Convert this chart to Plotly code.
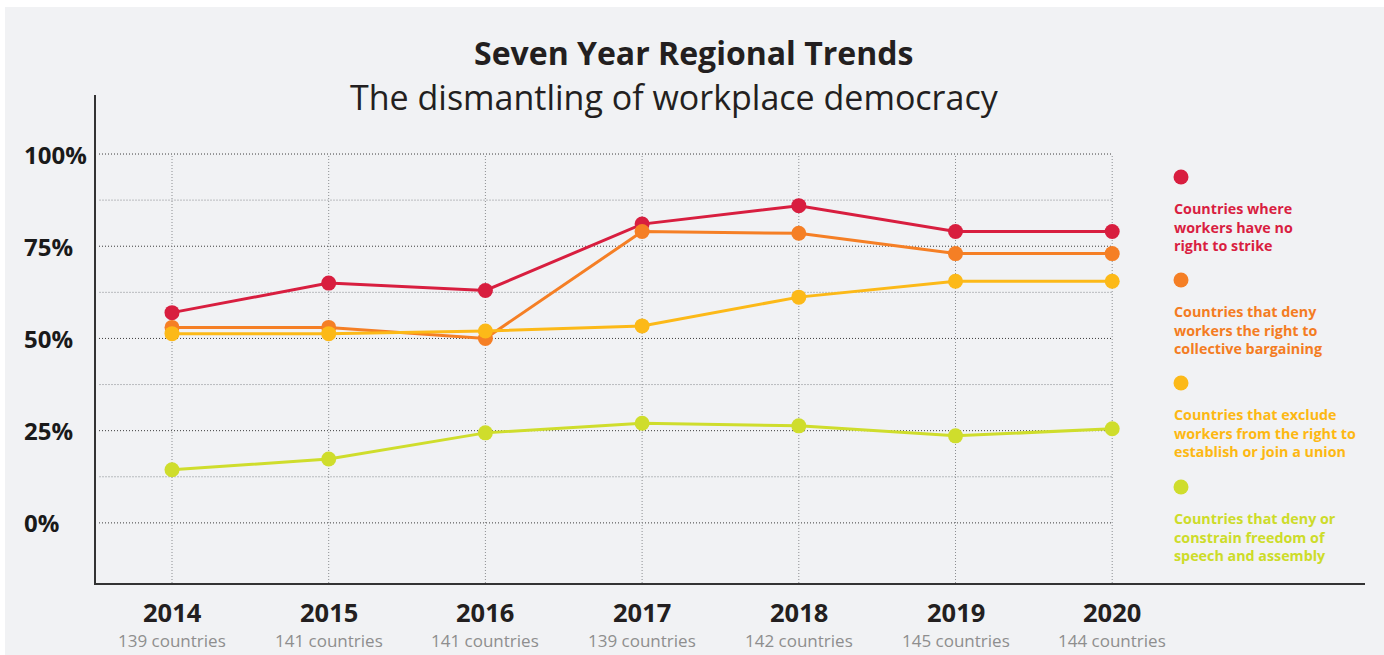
import plotly.graph_objects as go

years = [2014, 2015, 2016, 2017, 2018, 2019, 2020]
countries = ["139 countries", "141 countries", "141 countries", "139 countries",
             "142 countries", "145 countries", "144 countries"]

no_strike = [57, 65, 63, 81, 86, 79, 79]
no_bargaining = [53, 53, 50, 79, 78.5, 73, 73]
exclude_union = [51.3, 51.3, 52, 53.4, 61.2, 65.5, 65.5]
speech_assembly = [14.4, 17.3, 24.4, 27, 26.3, 23.6, 25.5]

series_names = [
    "Countries where<br>workers have no<br>right to strike",
    "Countries that deny<br>workers the right to<br>collective bargaining",
    "Countries that exclude<br>workers from the right to<br>establish or join a union",
    "Countries that deny or<br>constrain freedom of<br>speech and assembly",
]
series_values = [no_strike, no_bargaining, exclude_union, speech_assembly]
line_colors = ["#d81e3f", "#f57f25", "#fcb918", "#cfdd2c"]
text_colors = ["#d91e41", "#f47c22", "#fdb813", "#cddc29"]

y_ticks = [0, 25, 50, 75, 100]
y_minor = [12.5, 37.5, 62.5, 87.5]
y_tick_labels = ["0%", "25%", "50%", "75%", "100%"]

W, H = 1384, 655
L, R, T, B = 96, 19, 95, 72
PW, PH = W - L - R, H - T - B
X0_PX, X_STEP = 172, 156.7  # pixel position of first year and spacing


def px_x(p):
    return (p - L) / PW


def px_y(p):
    return (H - B - p) / PH


FONT = "Open Sans"
BG = "#f1f2f4"

fig = go.Figure()

for name, vals, col in zip(series_names, series_values, line_colors):
    fig.add_trace(go.Scatter(
        x=years, y=vals, mode="lines+markers", name=name.replace("<br>", " "),
        line=dict(color=col, width=3),
        marker=dict(color=col, size=15),
        showlegend=False, hoverinfo="x+y",
    ))

shapes = []
# white strips at top/left edges
shapes.append(dict(type="rect", xref="paper", yref="paper", x0=px_x(-2), x1=px_x(5),
                   y0=px_y(H + 2), y1=px_y(-2), fillcolor="white", line=dict(width=0), layer="below"))
shapes.append(dict(type="rect", xref="paper", yref="paper", x0=px_x(-2), x1=px_x(W + 2),
                   y0=px_y(7), y1=px_y(-2), fillcolor="white", line=dict(width=0), layer="below"))

grid_x0 = years[0] + (99 - X0_PX) / X_STEP
# horizontal gridlines
for v in y_minor:
    shapes.append(dict(type="line", xref="x", yref="y", x0=grid_x0, x1=years[-1], y0=v, y1=v,
                       line=dict(color="#b9bbbe", width=1, dash="2px,1px"), layer="below"))
for v in y_ticks:
    shapes.append(dict(type="line", xref="x", yref="y", x0=grid_x0, x1=years[-1], y0=v, y1=v,
                       line=dict(color="#3c3c3c", width=1, dash="1px,2px"), layer="below"))
# vertical gridlines
for yr in years:
    shapes.append(dict(type="line", xref="x", yref="y", x0=yr, x1=yr, y0=-16.3, y1=100,
                       line=dict(color="#8c8e91", width=1, dash="1px,2px"), layer="below"))

# legend markers
legend_marker_y = [177, 280, 383, 487]
legend_text_y = [207, 310, 413, 517]
for my, col in zip(legend_marker_y, line_colors):
    shapes.append(dict(type="circle", xref="paper", yref="paper",
                       xsizemode="pixel", ysizemode="pixel",
                       xanchor=px_x(1181), yanchor=px_y(my),
                       x0=-7.5, x1=7.5, y0=-7.5, y1=7.5,
                       fillcolor=col, line=dict(width=0)))

annotations = []
annotations.append(dict(text="<b>Seven Year Regional Trends</b>", xref="paper", yref="paper",
                        x=px_x(693), y=px_y(53), showarrow=False, xanchor="center", yanchor="middle",
                        font=dict(family=FONT, size=32, color="#231f20")))
annotations.append(dict(text="The dismantling of workplace democracy", xref="paper", yref="paper",
                        x=px_x(674), y=px_y(97), showarrow=False, xanchor="center", yanchor="middle",
                        font=dict(family=FONT, size=34, color="#231f20")))

for v, lab in zip(y_ticks, y_tick_labels):
    annotations.append(dict(text="<b>" + lab + "</b>", xref="paper", yref="y", x=px_x(22), y=v,
                            showarrow=False, xanchor="left", yanchor="middle",
                            font=dict(family=FONT, size=24, color="#1a1a1a")))

for yr, c in zip(years, countries):
    annotations.append(dict(text="<b>" + str(yr) + "</b>", xref="x", yref="paper", x=yr, y=px_y(612),
                            showarrow=False, xanchor="center", yanchor="middle",
                            font=dict(family=FONT, size=25.5, color="#231f20")))
    annotations.append(dict(text=c, xref="x", yref="paper", x=yr, y=px_y(640),
                            showarrow=False, xanchor="center", yanchor="middle",
                            font=dict(family=FONT, size=17, color="#8e8e8e")))

for ty, name, col in zip(legend_text_y, series_names, text_colors):
    annotations.append(dict(text="<b>" + name + "</b>", xref="paper", yref="paper",
                            x=px_x(1172), y=px_y(ty - 10), showarrow=False,
                            xanchor="left", yanchor="top", align="left",
                            font=dict(family=FONT, size=14.3, color=col)))

fig.update_layout(
    width=W, height=H,
    margin=dict(l=L, r=R, t=T, b=B, pad=0),
    paper_bgcolor=BG, plot_bgcolor=BG,
    shapes=shapes, annotations=annotations,
    showlegend=False,
    xaxis=dict(range=[years[0] + (L - X0_PX) / X_STEP, years[0] + (W - R - X0_PX) / X_STEP],
               showgrid=False, zeroline=False, showticklabels=False, ticks="",
               showline=True, linecolor="#333333", linewidth=2),
    yaxis=dict(range=[-16.3, 116], showgrid=False, zeroline=False, showticklabels=False, ticks="",
               showline=True, linecolor="#333333", linewidth=2),
    font=dict(family=FONT),
)

fig.write_html("out.html", config={"displayModeBar": False},
               post_script="document.body.style.margin='0';document.body.style.overflow='hidden';")
